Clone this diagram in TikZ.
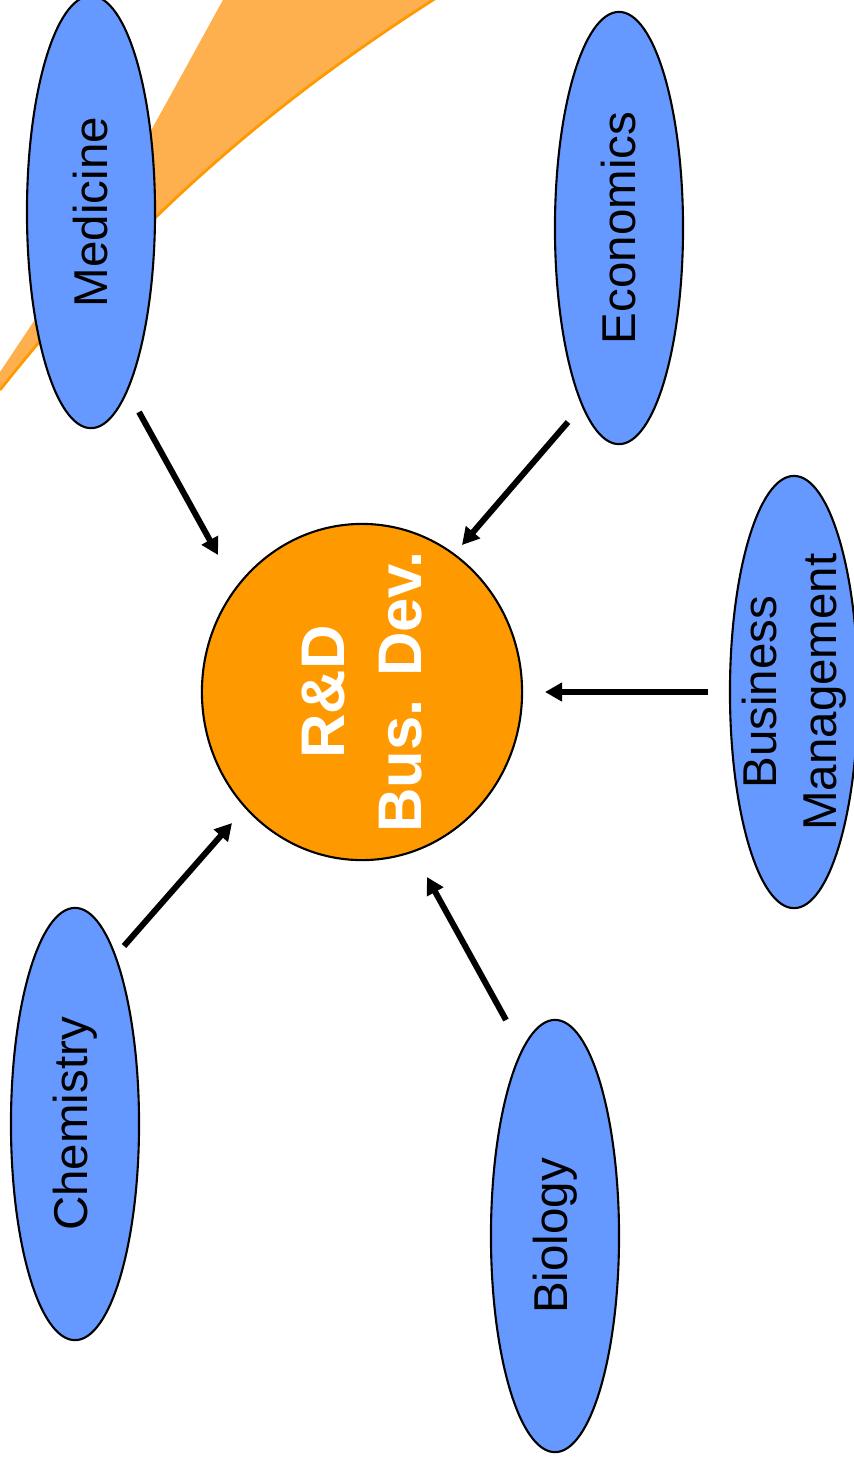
\documentclass[tikz,border=0pt]{standalone}
\usepackage{fontspec}
\setmainfont{Liberation Sans}
\usetikzlibrary{arrows.meta,shapes.geometric}

\definecolor{fieldblue}{RGB}{102,153,255}
\definecolor{huborange}{RGB}{255,153,0}
\definecolor{swooshfill}{RGB}{254,176,79}

\tikzset{
  field/.style={ellipse, draw=black, line width=0.6pt, fill=fieldblue, rotate=90,
    minimum width=4.32cm, minimum height=1.28cm, inner sep=-0.2cm, align=center,
    font=\fontsize{13.5}{17}\selectfont},
  hub/.style={ellipse, draw=black, line width=0.6pt, fill=huborange, rotate=90,
    minimum width=3.36cm, minimum height=3.2cm, inner sep=-0.4cm, align=center,
    text=white, font=\bfseries\fontsize{17.5}{22}\selectfont},
  flow/.style={-{Triangle[length=0.17cm,width=0.18cm]}, line width=1.7pt}
}

\begin{document}
\begin{tikzpicture}[x=0.01cm, y=-0.01cm]
  \useasboundingbox (0,0) rectangle (854,1465);
  % swoosh in the corner
  \fill[swooshfill] (0,372) .. controls (105,215) .. (224,-2) -- (436,-2)
    .. controls (300,85) and (150,200) .. (0,390) -- cycle;
  \draw[huborange, line width=0.8pt] (436,-2) .. controls (300,85) and (150,200) .. (0,390);

  \node [hub] (rd) at (362,692) {R\&D\\Bus. Dev.};
  \node [field] (med) at (91,212) {Medicine};
  \node [field] (eco) at (619,228) {Economics};
  \node [field] (bus) at (794,692) {Business\\Management};
  \node [field] (chem) at (75,1124) {Chemistry};
  \node [field] (bio) at (555,1236) {Biology};

  \draw [flow] ([shift={(48,200)}]med.center) -- ([shift={(-144,-137)}]rd.center);
  \draw [flow] ([shift={(-51,194)}]eco.center) -- ([shift={(100,-147)}]rd.center);
  \draw [flow] ([shift={(-86,0)}]bus.center) -- ([shift={(183,0)}]rd.center);
  \draw [flow] ([shift={(49,-178)}]chem.center) -- ([shift={(-130,131)}]rd.center);
  \draw [flow] ([shift={(-49,-216)}]bio.center) -- ([shift={(65,185)}]rd.center);
\end{tikzpicture}
\end{document}
